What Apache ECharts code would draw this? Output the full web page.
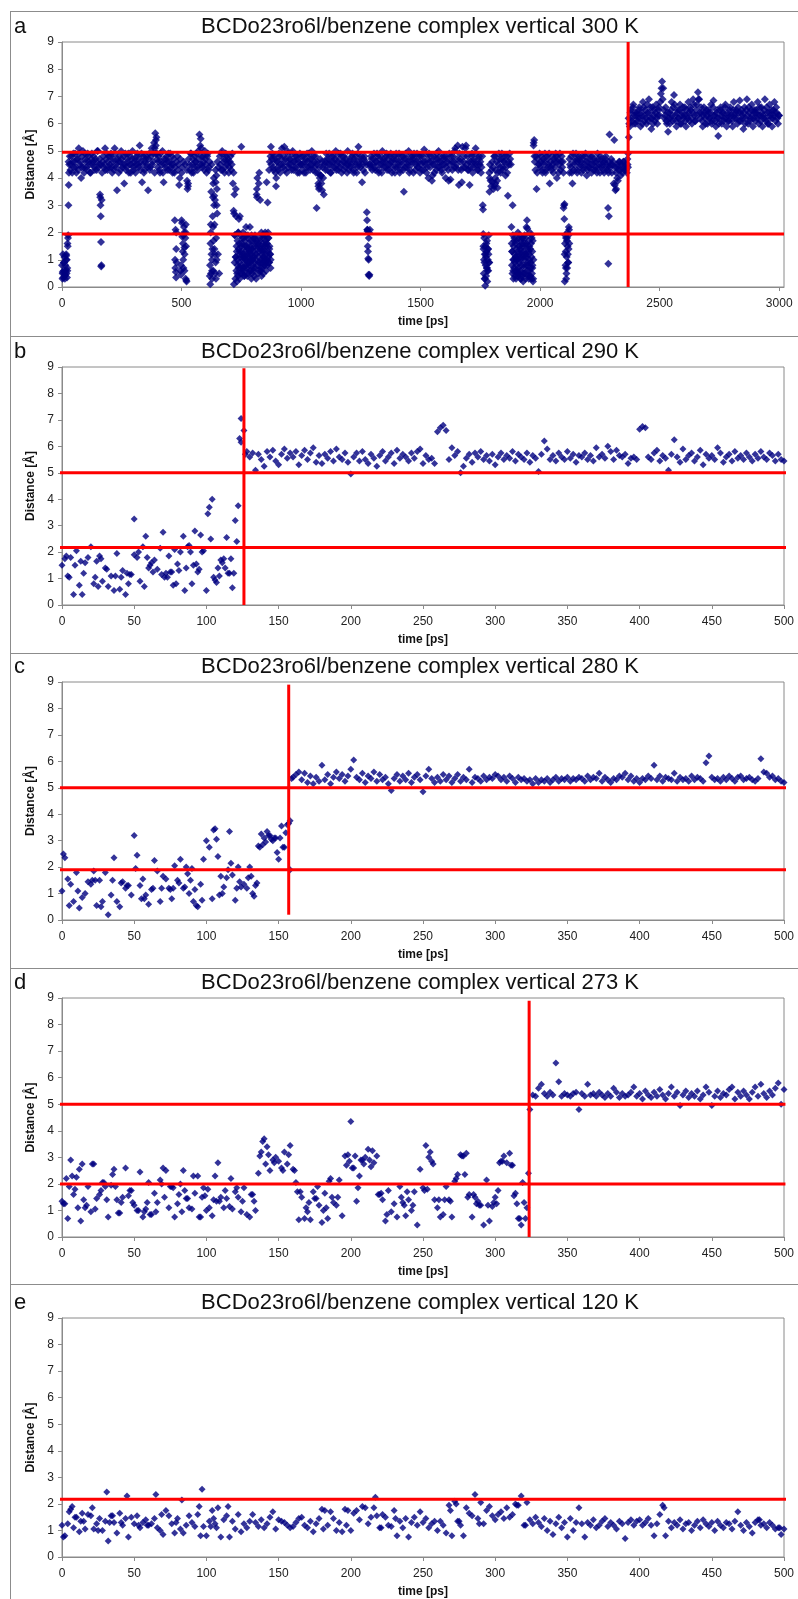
<!DOCTYPE html>
<html>
<head>
<meta charset="utf-8">
<title>BCDo23ro6l/benzene complex vertical</title>
<script src="https://cdn.jsdelivr.net/npm/echarts@6/dist/echarts.min.js"></script>
<style>
  html, body { margin: 0; padding: 0; background: #fff; }
  #chart { width: 798px; height: 1599px; }
</style>
</head>
<body>
<div id="chart"></div>
<script>
// ---- data ----
const titles = [
  'BCDo23ro6l/benzene complex vertical 300 K',
  'BCDo23ro6l/benzene complex vertical 290 K',
  'BCDo23ro6l/benzene complex vertical 280 K',
  'BCDo23ro6l/benzene complex vertical 273 K',
  'BCDo23ro6l/benzene complex vertical 120 K'
];
const letters = ['a', 'b', 'c', 'd', 'e'];
const xTicksA = [0, 500, 1000, 1500, 2000, 2500, 3000];
const xTicksShort = [0, 50, 100, 150, 200, 250, 300, 350, 400, 450, 500];
const xMax = [3020, 500, 500, 500, 500];
const sampleStep = [5, 2, 2, 2, 2]; // ps between regular samples

// panel a, 300 K: distance every 5 ps, 0..3000
const distA = [
  0.8,0.35,1.1,0.6,1.0,1.8,4.5,4.3,4.8,4.6,4.4,4.9,4.2,4.7,5.1,4.5,4.0,4.8,4.4,4.9,
  4.6,4.3,4.8,4.5,4.2,4.9,4.6,4.4,4.7,4.3,5.0,4.5,3.3,0.8,4.6,4.4,5.1,4.7,4.3,4.8,
  4.5,4.9,4.2,4.7,5.1,4.4,3.55,4.6,4.8,4.3,4.7,4.5,3.8,4.9,4.4,4.6,4.2,4.8,4.5,5.0,
  4.3,4.7,4.5,4.9,4.4,5.2,4.6,3.85,4.8,4.3,4.7,4.5,3.55,4.9,4.4,5.1,4.6,5.3,5.65,5.5,
  4.4,4.8,4.2,4.6,5.0,3.85,4.5,4.7,4.3,4.9,4.6,4.4,4.8,4.5,4.2,2.1,4.6,4.3,3.75,4.7,
  2.45,1.3,2.2,4.5,0.25,3.6,4.7,4.3,4.9,4.5,4.2,4.8,4.6,4.4,5.0,5.6,5.45,4.5,4.8,4.3,
  4.7,4.2,4.9,4.4,0.1,1.2,2.6,4.0,3.2,1.8,4.6,4.4,4.8,4.3,5.0,4.6,4.2,4.9,4.5,4.7,
  4.4,4.8,4.5,3.8,2.7,0.3,1.5,0.8,2.5,1.2,5.15,0.6,1.8,1.0,2.2,0.4,1.4,0.9,1.7,0.5,
  1.3,0.9,1.6,3.6,0.5,4.2,1.4,0.4,1.9,1.0,2.0,1.5,3.1,0.9,1.2,4.5,4.9,4.3,4.7,3.7,
  4.6,4.3,4.8,4.5,5.1,4.4,5.15,4.7,4.2,4.9,4.5,4.7,4.3,5.0,4.6,4.4,4.8,4.2,4.6,4.9,
  4.5,4.3,4.8,4.6,4.2,4.9,4.4,4.7,4.5,5.0,4.3,4.6,4.8,2.9,4.2,3.6,4.7,3.8,4.4,3.4,
  4.6,4.9,4.3,4.7,4.5,4.2,4.8,4.6,4.4,5.0,4.5,4.3,4.7,4.9,4.2,4.6,4.8,4.4,4.5,5.0,
  4.3,4.7,4.5,4.9,4.2,4.6,4.8,4.4,5.15,4.5,4.7,3.85,4.3,4.8,4.6,2.75,1.3,0.4,4.4,4.7,
  4.5,4.9,4.3,4.6,4.8,4.2,4.7,4.5,5.0,4.4,4.6,4.8,4.3,4.7,4.5,4.9,4.2,4.6,4.8,4.4,
  4.7,4.5,4.9,4.3,4.6,4.8,3.5,4.4,4.7,4.5,5.0,4.3,4.6,4.8,4.2,4.7,4.5,4.9,4.4,4.6,
  4.8,4.3,4.6,5.05,4.5,4.2,4.7,4.9,4.4,4.6,4.1,4.8,4.5,4.3,4.7,5.0,4.4,4.6,4.2,4.8,
  4.5,4.0,4.7,4.3,4.9,3.95,4.6,4.8,4.4,5.1,4.5,5.2,3.75,4.7,4.3,5.15,4.6,4.4,5.2,4.8,
  4.3,3.75,4.6,4.9,4.4,4.7,5.1,4.5,4.3,4.8,4.6,4.4,3.0,1.0,0.05,1.6,0.6,1.9,4.5,3.7,
  4.6,3.6,4.8,4.3,3.9,4.5,4.7,4.2,4.9,4.4,4.6,4.1,4.8,3.35,4.5,4.7,2.2,3.0,1.0,0.4,
  1.4,0.5,1.8,1.1,0.3,1.6,0.8,1.9,1.2,2.45,0.4,1.5,0.9,1.8,0.2,5.4,4.3,3.6,4.7,4.5,
  4.4,4.8,4.2,4.6,4.9,4.3,4.7,4.5,3.8,4.4,4.8,4.2,4.6,4.9,4.0,4.7,4.5,4.3,4.8,4.6,
  3.0,1.9,0.5,1.5,2.2,4.5,4.8,3.8,4.3,4.6,4.9,4.2,4.7,4.4,4.6,4.8,4.3,4.5,4.9,4.1,
  4.6,4.4,4.8,4.2,4.5,4.7,4.3,4.6,4.9,4.4,4.2,4.7,4.5,4.3,4.6,4.8,4.4,0.85,5.6,4.5,
  4.2,4.6,5.4,3.55,4.4,3.9,4.6,4.3,4.5,4.2,4.6,4.4,4.3,4.7,6.2,5.9,6.5,6.1,6.7,6.3,
  6.0,6.4,6.2,6.6,5.9,6.3,6.8,6.1,6.5,6.0,6.4,6.9,6.2,5.8,6.6,6.3,6.1,6.7,6.0,6.5,
  6.3,7.1,7.55,7.3,6.2,6.6,6.0,5.7,6.4,6.2,6.8,6.1,7.05,6.3,5.9,6.5,6.2,6.7,6.0,6.4,
  6.2,6.6,5.9,6.3,6.8,6.1,6.5,6.0,6.9,6.3,6.1,6.7,7.15,6.9,6.2,6.4,5.9,6.6,6.2,6.5,
  6.0,6.4,6.2,6.7,6.1,6.85,6.3,5.9,6.5,5.55,6.2,6.6,6.0,6.4,6.2,6.7,5.9,6.3,6.1,6.6,
  6.3,5.9,6.8,6.2,6.5,6.0,6.4,6.85,6.1,6.3,5.8,6.6,6.2,6.9,6.0,6.4,6.2,6.7,5.9,6.5,
  6.1,6.4,6.8,6.0,6.3,6.6,5.9,6.2,6.9,6.1,6.4,6.0,6.7,6.2,5.9,6.5,6.8,6.1,6.4,6.0,
  6.3
];
// panel a, frames half way between the regular samples (2.5, 7.5, ... 2997.5 ps)
const distAHalf = [
  0.5,0.9,0.4,1.2,0.6,4.6,4.8,4.5,4.2,4.9,4.6,4.4,4.7,4.3,4.9,4.6,4.4,5.0,4.2,4.7,
  4.4,4.9,4.6,4.2,4.7,4.5,4.8,4.3,4.6,5.0,4.4,4.7,4.5,4.2,4.8,4.5,4.3,4.9,4.6,4.4,
  4.8,4.4,4.6,4.3,4.9,4.5,4.7,4.2,4.6,5.0,4.4,4.8,4.5,4.3,4.7,4.9,4.5,4.2,4.7,4.4,
  4.6,4.2,4.8,4.5,4.7,4.3,4.9,4.5,4.2,4.6,4.8,4.4,4.7,4.3,4.8,4.5,4.9,4.2,5.2,4.7,
  4.6,4.3,4.9,4.5,4.2,4.7,4.4,4.8,4.6,4.3,4.9,4.5,4.2,4.7,4.4,1.4,4.8,4.5,4.0,0.8,
  4.4,1.9,0.6,2.0,4.3,3.8,4.5,4.9,4.2,4.7,4.4,4.6,4.9,4.3,4.7,4.5,4.8,4.4,4.6,5.0,
  4.5,4.8,4.3,4.6,2.3,0.6,3.8,1.4,0.9,3.0,1.2,0.5,4.5,4.9,4.3,4.7,4.4,4.8,4.6,4.2,
  4.6,4.3,4.9,4.2,1.9,1.1,0.5,2.0,1.3,0.7,1.6,1.1,0.4,1.5,0.8,1.9,1.2,0.6,1.4,1.0,
  0.7,1.8,1.2,1.5,0.9,1.7,0.6,1.3,1.1,0.8,1.6,1.0,1.8,1.4,0.7,4.7,4.4,4.8,4.2,4.6,
  4.4,4.9,4.2,4.7,4.5,4.8,4.3,4.6,5.0,4.4,4.7,4.5,4.9,4.3,4.6,4.8,4.4,4.7,4.2,4.5,
  4.8,4.5,4.2,4.7,4.4,4.6,4.9,4.3,4.7,4.5,4.8,4.4,4.2,4.6,3.7,4.4,4.1,4.6,4.0,4.5,
  4.3,4.7,4.5,4.9,4.2,4.6,4.4,4.8,4.7,4.3,4.6,4.9,4.4,4.5,4.8,4.3,4.6,4.7,4.2,4.5,
  4.6,4.4,4.8,4.3,4.7,4.5,4.2,4.9,4.6,4.4,4.8,4.5,4.7,4.2,4.5,2.1,1.0,4.5,4.8,4.3,
  4.7,4.4,4.6,4.9,4.3,4.5,4.8,4.2,4.6,4.7,4.4,4.9,4.5,4.3,4.8,4.6,4.4,4.7,4.2,4.9,
  4.4,4.6,4.2,4.8,4.5,4.3,4.7,4.9,4.4,4.6,4.2,4.8,4.5,4.7,4.9,4.3,4.6,4.4,4.8,4.2,
  4.5,4.8,4.3,4.6,4.9,4.4,4.0,4.6,4.8,3.9,4.5,4.2,4.7,4.9,4.4,4.6,4.8,4.3,4.5,4.7,
  4.8,4.4,4.6,3.9,4.5,4.8,4.3,4.6,5.0,4.4,4.7,4.3,4.9,4.6,3.85,4.4,4.8,5.1,4.5,4.3,
  4.6,4.4,4.8,4.2,4.6,4.5,4.9,4.3,4.7,4.5,4.2,4.8,1.5,0.3,1.2,0.7,1.4,0.9,3.9,4.3,
  4.4,4.8,3.8,4.6,4.2,4.9,4.4,4.7,4.3,4.6,4.8,4.4,4.2,4.6,4.9,4.5,1.3,0.6,1.7,1.1,
  1.0,0.6,1.5,0.3,1.3,1.8,0.5,1.1,1.6,0.8,1.3,0.4,1.9,0.7,5.2,4.6,4.8,4.2,4.5,4.9,
  4.6,4.3,4.7,4.5,4.2,4.8,4.4,4.9,4.6,4.3,4.5,4.7,4.4,4.8,4.6,4.2,4.9,4.6,4.4,4.2,
  1.2,0.7,1.8,0.9,4.7,4.4,4.2,4.9,4.5,4.7,4.3,4.6,4.8,4.5,4.2,4.7,4.4,4.8,4.6,4.3,
  4.4,4.7,4.5,4.8,4.3,4.6,4.4,4.2,4.7,4.5,4.8,4.4,4.6,4.2,4.7,4.5,4.3,2.6,4.4,4.7,
  4.5,3.8,4.4,4.2,4.5,4.3,4.6,4.1,4.4,4.6,4.3,4.5,4.2,4.4,6.0,6.4,6.2,6.6,6.0,6.4,
  6.3,6.1,6.5,6.2,6.4,6.0,6.6,6.3,6.2,6.7,6.1,6.4,6.6,6.2,6.0,6.5,6.4,6.2,6.3,6.6,
  6.8,7.3,6.9,6.5,6.3,6.1,6.4,6.2,6.0,6.5,6.3,6.6,6.7,6.1,6.4,6.2,6.5,6.0,6.3,6.6,
  6.3,6.1,6.5,6.2,6.4,6.6,6.2,6.4,6.7,6.1,6.5,6.3,6.9,6.4,6.6,6.1,6.3,6.4,6.0,6.3,
  6.5,6.2,6.4,6.0,6.6,6.3,6.1,6.4,6.2,6.0,6.5,6.3,6.4,6.1,6.6,6.2,6.4,6.1,6.5,6.3,
  6.1,6.5,6.3,6.4,6.2,6.6,6.1,6.4,6.5,6.2,6.4,6.0,6.5,6.3,6.6,6.1,6.5,6.3,6.2,6.4,
  6.5,6.2,6.3,6.6,6.1,6.4,6.3,6.5,6.2,6.6,6.0,6.4,6.3,6.5,6.2,6.3,6.4,6.6,6.2,6.3
];
// panel a, extra frames [ps, distance] inside the fast excursions
const extraA = [
  [2,0.3],[3,0.55],[4,1.2],[7,0.6],[9,0.9],[12,0.3],[13,0.45],[14,0.8],[17,1.0],[18,1.15],[19,0.5],
  [21,0.35],[22,0.7],[23,1.6],[24,1.5],[26,1.9],[27,3.0],[28,3.75],[29,4.2],
  [159,3.4],[161,3.0],[162,2.6],[163,1.65],[164,0.75],[166,3.2],
  [388,5.1],[392,4.9],[393,5.4],[397,4.9],
  [472,2.45],[473,1.0],[474,0.7],[476,0.55],[477,0.35],[478,2.0],[479,0.9],[496,0.6],[498,0.45],
  [501,4.2],[502,2.35],[503,1.85],[506,1.6],[507,1.0],[508,0.7],[509,4.6],[511,2.0],[512,1.45],[513,1.2],
  [516,1.8],[517,0.3],[518,2.3],[519,1.5],[521,0.2],[523,3.9],[527,3.7],[578,5.2],[582,5.1],
  [618,0.4],[619,0.8],[621,1.6],[622,2.0],[623,0.5],[624,3.5],[626,4.5],[627,1.0],[628,0.3],[629,1.4],
  [631,3.3],[632,2.2],[633,0.6],[634,1.7],[636,3.0],[637,3.35],[638,2.3],[639,1.2],[641,0.5],[642,4.3],
  [643,3.85],[644,0.3],[646,4.1],[647,1.0],[648,3.6],[649,2.7],
  [718,2.8],[719,0.1],[721,3.4],[722,0.9],[723,1.9],[726,1.1],[727,3.6],[728,2.6],[729,0.6],[731,1.3],
  [732,0.2],[733,1.0],[734,1.7],[736,0.4],[737,2.0],[738,0.7],[739,1.4],[741,0.9],[742,1.6],[743,0.3],
  [744,2.6],[746,1.9],[747,0.5],[748,1.1],[749,1.5],[751,0.8],[752,1.3],[753,0.5],[754,1.8],[756,1.0],
  [757,2.0],[758,0.7],[759,1.2],[761,1.5],[762,0.4],[763,1.1],[764,1.7],[766,0.8],[767,1.3],[768,0.6],
  [769,1.9],[771,1.0],[772,1.5],[773,0.7],[774,1.2],[776,1.8],[777,0.9],[778,1.4],[779,0.5],[781,1.1],
  [782,1.6],[783,0.8],[784,1.3],[786,2.2],[787,1.0],[788,0.6],[789,1.5],[791,1.2],[792,0.3],[793,1.9],
  [794,1.0],[796,1.4],[797,0.8],[798,1.7],[799,1.1],
  [801,0.6],[802,1.8],[803,1.1],[804,0.4],[806,1.5],[807,1.9],[808,0.7],[809,1.2],[811,1.0],[812,0.3],
  [813,1.7],[814,3.4],[816,3.3],[817,4.0],[818,1.4],[819,0.8],[821,1.6],[822,1.1],[823,3.8],[824,0.6],
  [826,1.3],[827,1.8],[828,0.9],[829,3.2],[831,0.7],[832,1.5],[833,1.0],[834,2.0],[836,1.2],[837,0.7],
  [838,1.6],[839,0.9],[841,1.4],[842,0.5],[843,1.8],[844,1.1],[846,1.5],[847,0.8],[848,1.9],[849,1.3],
  [851,0.9],[852,1.7],[853,1.2],[854,0.6],[856,3.85],[857,1.0],[858,1.6],[859,0.8],[861,1.3],[862,2.0],
  [863,1.1],[864,1.8],[866,4.3],[867,0.9],[868,1.5],[869,4.6],[871,1.2],[872,4.8],[873,1.0],[874,5.15],[896,4.0],
  [1067,4.5],[1072,3.8],[1078,4.0],[1082,4.1],[1088,3.55],
  [1276,2.45],[1277,2.1],[1278,2.05],[1279,1.5],[1281,1.05],[1282,0.45],[1283,1.8],[1284,2.0],[1286,0.45],
  [1287,4.5],[1288,2.1],
  [1761,2.85],[1762,1.95],[1763,1.4],[1764,0.5],[1766,1.8],[1767,0.9],[1768,1.2],[1769,0.3],[1771,1.5],
  [1772,0.8],[1773,1.1],[1774,0.4],[1776,1.3],[1777,0.7],[1778,1.7],[1779,0.2],[1781,1.0],[1782,1.4],
  [1783,0.6],[1784,1.2],[1786,0.9],[1787,4.2],[1788,3.5],[1789,4.0],
  [1801,3.85],[1808,3.7],[1812,4.0],[1822,3.65],
  [1881,1.6],[1882,0.8],[1883,1.3],[1884,0.5],[1886,1.9],[1887,1.0],[1888,0.3],[1889,1.5],[1891,0.7],
  [1892,1.8],[1893,1.2],[1894,0.9],[1896,1.6],[1897,0.6],[1898,1.1],[1899,0.3],
  [1901,0.8],[1902,1.7],[1903,1.0],[1904,0.4],[1906,1.3],[1907,2.0],[1908,0.7],[1909,1.2],[1911,0.5],
  [1912,1.5],[1913,0.9],[1914,1.9],[1916,0.6],[1917,1.4],[1918,1.0],[1919,1.7],[1921,0.8],[1922,1.2],
  [1923,0.4],[1924,1.8],[1926,1.1],[1927,0.5],[1928,1.5],[1929,0.2],[1931,1.3],[1932,0.7],[1933,1.6],
  [1934,1.0],[1936,0.5],[1937,1.2],[1938,1.8],[1939,0.3],[1941,1.5],[1942,0.8],[1943,2.2],[1944,1.1],
  [1946,2.15],[1947,0.6],[1948,1.4],[1949,0.9],[1951,1.7],[1952,0.3],[1953,1.2],[1954,0.6],[1956,1.0],
  [1957,2.0],[1958,0.4],[1959,1.4],[1961,0.7],[1962,1.6],[1963,0.3],[1964,1.1],[1966,0.5],[1967,1.3],
  [1968,0.8],[1969,1.7],[1971,0.3],[1972,1.0],[1973,5.3],[1976,4.8],
  [2098,2.9],[2101,2.5],[2102,3.05],[2103,0.2],[2104,1.6],[2106,0.8],[2107,1.3],[2108,1.8],[2109,0.3],
  [2111,1.1],[2112,1.7],[2113,0.7],[2114,2.0],[2116,1.2],[2117,0.9],[2118,1.9],[2119,1.4],[2121,2.1],
  [2122,1.6],[2123,4.2],
  [2284,2.9],[2286,4.2],[2288,4.6],[2312,3.75],[2318,3.6],[2322,4.0],[2366,4.5],[2368,4.9],[2371,5.5]
];

// panel b, 290 K: every 2 ps, 0..500
const distB = [
  1.5,1.75,1.1,1.8,0.4,2.05,0.75,0.4,1.6,1.8,
  2.2,0.8,1.65,1.85,0.9,1.4,0.7,1.1,0.55,1.95,
  0.6,1.3,0.4,0.8,1.15,3.25,1.8,0.9,2.2,2.6,
  1.4,1.6,1.7,1.35,2.15,2.75,1.2,1.85,1.25,2.1,
  1.55,2.0,2.6,1.4,2.25,0.8,2.8,1.25,2.65,2.05,
  0.55,3.7,4.0,0.95,1.4,1.7,1.75,2.55,1.2,0.65,
  3.2,3.75,7.05,6.6,5.8,5.6,5.75,5.1,5.7,5.5,
  5.25,5.8,5.6,5.85,5.45,5.3,5.7,5.9,5.55,5.75,
  5.6,5.8,5.3,5.65,5.85,5.5,5.75,5.95,5.4,5.65,
  5.35,5.7,5.55,5.8,5.45,5.9,5.6,5.5,5.75,5.4,
  4.95,5.6,5.75,5.45,5.8,5.5,5.35,5.7,5.55,5.25,
  5.65,5.8,5.45,5.6,5.75,5.35,5.85,5.55,5.7,5.6,
  5.45,5.75,5.55,5.8,5.9,5.35,5.65,5.5,5.55,5.35,
  6.55,6.7,6.8,6.6,5.5,5.95,5.65,5.8,5.0,5.25,
  5.55,5.7,5.4,5.75,5.6,5.8,5.5,5.65,5.45,5.7,
  5.3,5.6,5.75,5.5,5.65,5.55,5.8,5.45,5.7,5.6,
  5.5,5.75,5.4,5.65,5.55,5.05,5.7,6.2,5.9,5.5,
  5.65,5.45,5.75,5.6,5.5,5.8,5.55,5.7,5.4,5.65,
  5.6,5.75,5.5,5.65,5.45,5.95,5.6,5.7,5.55,6.0,
  5.8,5.5,5.85,5.65,5.6,5.7,5.35,5.55,5.6,5.5,
  6.65,6.75,6.7,5.6,5.5,5.75,5.85,5.45,5.65,5.55,
  5.1,5.7,6.25,5.6,5.4,5.9,5.5,5.65,5.75,5.45,
  5.6,5.85,5.3,5.7,5.55,5.65,5.5,5.95,5.75,5.4,
  5.6,5.7,5.45,5.8,5.55,5.65,5.5,5.75,5.6,5.45,
  5.7,5.55,5.8,5.6,5.5,5.75,5.65,5.45,5.7,5.5,
  5.45
];
const extraB = [
  [3,1.85],[5,1.05],[9,1.5],[13,1.65],[15,1.2],[23,1.05],[25,0.7],[27,1.75],[31,1.35],[37,1.1],
  [41,1.05],[45,1.2],[47,1.15],[50,1.9],[53,2.0],[57,0.7],[59,1.8],[61,1.5],[63,1.25],[69,1.15],
  [71,1.05],[73,1.05],[75,1.25],[77,0.75],[79,0.8],[81,1.3],[85,0.55],[87,2.2],[89,2.0],[91,1.5],
  [93,1.55],[95,1.35],[97,2.0],[101,3.45],[103,2.5],[105,1.05],[107,0.85],[109,1.1],[111,1.6],
  [113,1.4],[115,1.2],[117,1.75],[119,1.2],[121,2.4],[123,6.3],[124,6.15],[127,5.7]
];

// panel c, 280 K: every 2 ps, 0..500
const distC = [
  1.1,2.35,1.55,1.35,0.7,1.8,0.45,0.85,1.0,1.45,
  1.35,1.85,0.55,1.5,0.7,1.8,0.2,0.95,2.35,0.7,
  0.5,1.45,1.2,1.3,0.95,3.2,2.45,1.3,1.55,0.95,
  0.6,1.15,2.25,1.85,0.7,1.65,1.55,1.2,0.8,2.05,
  1.5,2.3,1.2,2.0,1.0,1.95,1.15,0.5,1.35,2.3,
  3.0,2.75,0.8,3.45,2.4,1.65,1.25,1.6,3.35,1.7,
  0.75,2.0,1.25,1.35,1.2,2.0,1.0,1.3,2.8,3.25,
  3.1,3.35,3.2,3.0,3.1,2.3,3.55,2.75,3.6,3.75,
  5.4,5.5,5.6,5.3,5.55,5.2,5.45,5.15,5.4,5.25,
  5.85,5.3,5.5,5.15,5.4,5.6,5.35,5.5,5.25,5.45,
  5.7,6.05,5.4,5.3,5.55,5.2,5.45,5.35,5.6,5.25,
  5.5,5.3,5.4,5.15,4.9,5.35,5.5,5.25,5.45,5.3,
  5.55,5.2,5.4,5.5,5.3,4.85,5.45,5.7,5.35,5.2,
  5.4,5.25,5.5,5.3,5.45,5.2,5.35,5.5,5.25,5.4,
  5.3,5.7,5.2,5.4,5.35,5.25,5.45,5.3,5.4,5.35,
  5.5,5.45,5.3,5.4,5.25,5.45,5.35,5.2,5.4,5.3,
  5.35,5.25,5.3,5.15,5.35,5.2,5.3,5.25,5.35,5.2,
  5.3,5.4,5.25,5.35,5.3,5.4,5.25,5.35,5.3,5.4,
  5.35,5.25,5.45,5.3,5.4,5.35,5.55,5.25,5.4,5.3,
  5.2,5.35,5.3,5.45,5.4,5.55,5.3,5.45,5.25,5.35,
  5.2,5.35,5.3,5.45,5.35,5.85,5.3,5.45,5.25,5.4,
  5.35,5.3,5.55,5.25,5.4,5.3,5.35,5.25,5.45,5.3,
  5.4,5.35,5.25,5.95,6.2,5.4,5.3,5.35,5.25,5.4,
  5.3,5.45,5.35,5.25,5.4,5.45,5.3,5.35,5.4,5.3,
  5.25,5.35,6.1,5.6,5.55,5.4,5.45,5.3,5.35,5.25,
  5.2
];
const extraC = [
  [1,2.5],[5,0.55],[11,1.1],[21,1.5],[23,1.5],[27,0.5],[35,1.5],[41,1.4],[45,1.3],[51,1.95],
  [55,0.8],[57,0.8],[63,1.2],[69,1.2],[75,1.15],[77,1.2],[81,1.4],[85,1.25],[87,1.75],[89,1.5],
  [91,0.7],[93,0.55],[97,0.75],[105,3.4],[107,3.05],[109,0.95],[111,1.0],[115,1.9],[117,2.15],
  [121,1.2],[123,1.45],[129,1.6],[131,1.65],[133,0.9],[135,1.4],[137,2.75],[139,2.85],[141,2.95],
  [143,3.2],[145,3.05],[147,3.1],[149,2.55],[151,3.1],[153,2.75],[155,3.3],[157,3.65],[158,1.9],[159,5.35]
];

// panel d, 273 K: every 2 ps, 0..500
const distD = [
  1.35,1.25,0.7,2.9,1.6,2.25,2.55,2.75,1.1,1.9,
  0.95,2.75,1.45,1.6,2.05,1.9,0.75,1.95,2.55,1.4,
  0.9,1.5,2.6,1.55,1.75,1.2,1.0,2.45,0.75,1.05,
  2.05,0.85,1.65,1.3,2.15,2.6,2.5,1.1,1.9,0.75,
  1.25,2.0,2.5,1.45,1.1,1.05,1.65,2.3,0.75,1.85,
  1.0,1.1,0.8,2.3,2.8,1.5,1.1,1.45,1.15,1.05,
  1.7,1.5,0.95,1.85,0.85,0.75,1.6,1.0,2.4,3.2,
  3.7,3.4,2.5,2.9,3.0,2.85,2.6,3.2,2.75,3.45,
  2.55,2.05,0.65,1.5,0.7,0.95,0.65,1.7,1.45,1.2,
  0.55,1.65,0.7,2.2,1.3,1.2,2.15,0.8,3.05,3.1,
  4.35,2.6,1.35,2.3,2.9,3.0,3.3,2.65,2.8,3.05,
  1.6,1.4,0.6,1.75,0.95,1.25,0.75,1.9,1.3,0.8,
  1.4,1.0,1.7,0.45,2.55,1.85,3.45,3.0,2.85,1.4,
  1.1,0.75,0.85,1.9,1.4,0.75,2.1,2.35,3.1,3.05,
  3.15,1.6,0.75,1.5,1.35,1.2,0.45,2.15,0.6,1.15,
  1.5,1.75,2.85,3.05,2.8,3.15,2.7,1.65,0.7,0.45,
  1.3,1.1,4.8,5.35,5.3,5.6,5.75,5.4,5.3,5.45,
  5.35,6.55,5.85,5.3,5.4,5.35,5.3,5.4,5.45,4.8,
  5.4,5.3,5.75,5.35,5.4,5.3,5.45,5.35,5.25,5.4,
  5.3,5.6,5.45,5.25,5.4,5.3,5.35,5.45,5.65,5.3,
  5.4,5.2,5.5,5.35,5.25,5.45,5.3,5.55,5.35,5.2,
  5.4,5.65,5.3,5.45,4.95,5.35,5.5,5.25,5.4,5.3,
  5.5,5.2,5.35,5.65,5.45,4.95,5.3,5.5,5.25,5.4,
  5.35,5.55,5.65,5.2,5.45,5.3,5.5,5.35,5.2,5.45,
  5.65,5.3,5.75,5.4,5.25,5.5,5.35,5.6,5.8,5.0,
  5.55
];
const extraD = [
  [1,1.25],[3,2.2],[5,1.9],[7,2.3],[9,1.8],[11,1.1],[13,0.6],[15,1.4],[17,1.2],[21,2.75],
  [23,1.05],[27,1.75],[29,2.05],[31,1.4],[35,2.35],[37,1.9],[39,0.9],[41,1.3],[47,1.75],[49,1.3],
  [53,1.0],[57,0.95],[59,1.3],[61,0.85],[65,0.95],[69,2.0],[71,1.5],[75,1.9],[77,1.85],[81,1.6],
  [83,0.95],[85,1.75],[87,1.45],[91,2.3],[95,0.75],[97,1.5],[99,1.55],[101,1.8],[105,1.4],[107,1.35],
  [109,1.35],[113,1.75],[117,2.2],[121,1.85],[125,1.35],[131,1.6],[133,1.35],[137,3.05],[139,3.6],
  [141,2.75],[143,3.1],[147,2.8],[153,2.5],[157,3.1],[161,2.5],[163,1.7],[165,1.7],[169,1.1],[171,1.3],
  [175,1.45],[177,1.9],[181,1.0],[183,1.1],[185,2.1],[187,1.5],[191,1.5],[197,2.7],[199,2.85],[201,2.6],
  [203,3.05],[205,1.85],[207,2.9],[209,2.75],[213,2.9],[215,3.25],[219,1.6],[221,1.65],[225,0.85],
  [235,1.5],[237,1.2],[239,1.7],[243,1.2],[251,1.75],[253,1.8],[255,3.2],[257,2.75],[261,1.4],[265,1.4],
  [269,1.35],[273,2.2],[277,3.05],[279,2.35],[281,1.5],[285,1.6],[287,1.25],[289,1.2],[295,1.2],
  [299,1.3],[301,1.25],[303,2.8],[305,2.85],[311,2.7],[313,1.55],[315,1.25],[317,0.7],[319,2.05],
  [321,0.7],[323,2.4]
];

// panel e, 120 K: every 2 ps, 0..500
const distE = [
  1.2,0.8,1.25,1.8,1.1,1.5,0.95,1.65,1.05,1.6,
  1.55,1.05,1.25,1.45,1.0,1.35,0.6,1.55,1.3,0.9,
  1.65,1.2,1.45,0.75,1.5,1.25,1.55,1.1,1.3,1.4,
  1.2,1.25,1.45,1.1,1.0,0.85,1.75,1.55,1.25,0.9,
  1.45,1.05,0.9,1.2,1.55,1.3,1.15,1.6,0.8,1.15,
  0.8,1.35,1.75,1.25,1.85,0.75,1.4,1.55,0.75,1.35,
  1.05,1.6,0.95,1.25,1.1,1.35,1.6,1.3,1.15,1.4,
  1.1,1.25,1.5,1.7,1.05,1.4,1.35,1.3,1.2,1.1,
  1.15,1.3,1.45,1.5,1.2,1.1,1.35,0.95,1.25,1.45,
  1.8,1.75,1.2,1.7,1.45,1.0,1.3,0.95,1.8,1.75,
  1.0,1.65,1.75,1.4,1.9,1.85,1.25,1.5,1.85,1.55,
  1.1,1.6,1.5,1.2,1.15,1.75,0.8,1.35,1.1,1.45,
  0.75,1.3,1.5,1.2,1.7,1.3,1.45,1.1,1.25,1.35,
  1.0,1.35,1.2,0.9,1.95,0.8,2.1,1.35,1.2,0.8,
  1.85,1.65,1.55,2.35,1.45,2.05,1.25,1.75,1.9,1.55,
  1.4,1.6,1.7,1.45,1.85,1.5,1.6,2.0,1.95,2.3,
  1.2,2.05,1.4,1.25,1.5,1.3,1.15,1.45,1.0,1.35,
  0.85,1.25,1.5,1.1,1.3,0.75,1.45,1.0,1.3,1.85,
  1.25,0.75,1.3,1.2,1.4,1.1,1.2,1.35,1.45,1.15,
  1.3,1.2,1.05,1.35,1.25,0.7,1.3,1.4,1.2,1.35,
  1.4,1.2,1.3,1.45,1.2,0.8,1.25,1.6,1.95,0.8,
  1.35,1.1,1.3,1.2,1.4,1.05,1.25,1.3,1.0,1.2,
  1.35,1.1,1.4,1.25,1.15,1.3,1.0,1.35,1.2,1.1,
  1.3,1.25,1.05,1.35,1.7,1.2,1.0,1.3,1.15,0.9,
  1.3,1.4,1.2,1.25,1.1,1.3,1.2,1.05,1.1,0.85,
  1.05
];
const extraE = [
  [1,0.75],[5,1.7],[7,1.9],[9,1.5],[13,1.35],[15,1.35],[21,1.85],[25,1.0],[31,2.45],[33,1.3],
  [35,1.55],[41,1.3],[45,2.3],[53,1.2],[59,1.2],[65,2.35],[69,1.6],[79,1.3],[83,2.15],[95,1.9],
  [97,2.55],[103,1.15],[105,1.45],[107,1.1],[115,1.9],[181,1.05],[197,1.2],[217,2.25],[221,1.1],
  [231,1.45],[269,1.75],[273,2.0],[275,1.35],[289,1.25],[315,1.95],[321,1.2],[417,1.85],[483,1.4],[497,1.1]
];

// red guide lines: horizontal distance thresholds and the switching time
const thresholds = [[4.95, 1.95], [5.0, 2.17], [5.0, 1.9], [5.0, 2.0], [2.17]];
const switchTime = [2368, 126, 157, 323.5, null];
const switchRange = [[0, 9], [0, 8.95], [0.2, 8.9], [0, 8.9], null];
const hLineRange = [[0, 3020], [-3, 503], [-3, 503], [-3, 501], [-3, 503]];

const dists = [distA, distB, distC, distD, distE];
const extras = [extraA, extraB, extraC, extraD, extraE];

// ---- layout ----
const FONT = '"Liberation Sans", Arial, Helvetica, sans-serif';
const plotTops = [42, 367, 682, 998, 1318];
const plotHeights = [245, 238, 238, 239, 239];
const frameYs = [11, 336, 653, 968, 1284];
const markerSize = [8, 7, 7, 7, 7];

const grids = [], xAxes = [], yAxes = [], series = [], graphics = [];

dists.forEach((dist, i) => {
  grids.push({
    left: 62, right: 14, top: plotTops[i], height: plotHeights[i],
    show: true, borderColor: '#8a8a8a', borderWidth: 1, backgroundColor: '#fff'
  });

  const ticks = i === 0 ? xTicksA : xTicksShort;
  xAxes.push({
    gridIndex: i, type: 'value', min: 0, max: xMax[i], interval: ticks[1],
    name: 'time [ps]', nameLocation: 'middle', nameGap: 29,
    nameTextStyle: { fontFamily: FONT, fontSize: 12, fontWeight: 'bold', color: '#111' },
    axisLine: { onZero: false, lineStyle: { color: '#8a8a8a', width: 1 } },
    axisTick: { show: true, length: 4, customValues: ticks, lineStyle: { color: '#8a8a8a' } },
    axisLabel: {
      customValues: ticks, margin: 11, fontFamily: FONT, fontSize: 12, color: '#222',
      formatter: v => (ticks.indexOf(v) >= 0 ? String(v) : '')
    },
    splitLine: { show: false }
  });

  yAxes.push({
    gridIndex: i, type: 'value', min: 0, max: 9, interval: 1,
    name: 'Distance [Å]', nameLocation: 'middle', nameGap: 24,
    nameTextStyle: { fontFamily: FONT, fontSize: 12, fontWeight: 'bold', color: '#111' },
    axisLine: { show: true, lineStyle: { color: '#8a8a8a', width: 1 } },
    axisTick: { show: true, length: 4, lineStyle: { color: '#8a8a8a' } },
    axisLabel: { margin: 8, fontFamily: FONT, fontSize: 12, color: '#222' },
    splitLine: { show: false }
  });

  let pts = dist.map((v, k) => [k * sampleStep[i], v]);
  if (i === 0) {
    pts = pts.concat(distAHalf.map((v, k) => [k * sampleStep[0] + sampleStep[0] / 2, v]));
  }
  pts = pts.concat(extras[i]);
  series.push({
    type: 'scatter', xAxisIndex: i, yAxisIndex: i,
    symbol: 'diamond', symbolSize: markerSize[i],
    itemStyle: { color: '#000080' },
    data: pts, z: 2
  });

  thresholds[i].forEach(y => {
    series.push({
      type: 'line', xAxisIndex: i, yAxisIndex: i, clip: false,
      symbol: 'none', lineStyle: { color: '#ff0000', width: 3 },
      data: [[hLineRange[i][0], y], [hLineRange[i][1], y]], z: 4
    });
  });
  if (switchTime[i] !== null) {
    series.push({
      type: 'line', xAxisIndex: i, yAxisIndex: i, clip: false,
      symbol: 'none', lineStyle: { color: '#ff0000', width: 3 },
      data: [[switchTime[i], switchRange[i][0]], [switchTime[i], switchRange[i][1]]], z: 4
    });
  }

  // panel frame, letter and title
  graphics.push({
    type: 'line', silent: true,
    shape: { x1: 10, y1: frameYs[i] + 0.5, x2: 798, y2: frameYs[i] + 0.5 },
    style: { stroke: '#8c8c8c', lineWidth: 1 }
  });
  graphics.push({
    type: 'text', x: 14, y: plotTops[i] - 15, silent: true,
    style: { text: letters[i], font: '22px ' + FONT, fill: '#111', textAlign: 'left', textVerticalAlign: 'middle' }
  });
  graphics.push({
    type: 'text', x: 420, y: plotTops[i] - 15, silent: true,
    style: { text: titles[i], font: '22px ' + FONT, fill: '#111', textAlign: 'center', textVerticalAlign: 'middle' }
  });
});

graphics.push({
  type: 'line', silent: true,
  shape: { x1: 10.5, y1: 11, x2: 10.5, y2: 1599 },
  style: { stroke: '#8c8c8c', lineWidth: 1 }
});

const chart = echarts.init(document.getElementById('chart'), null, { renderer: 'canvas' });
chart.setOption({
  backgroundColor: '#fff',
  animation: false,
  grid: grids,
  xAxis: xAxes,
  yAxis: yAxes,
  series: series,
  graphic: graphics
});
</script>
</body>
</html>
